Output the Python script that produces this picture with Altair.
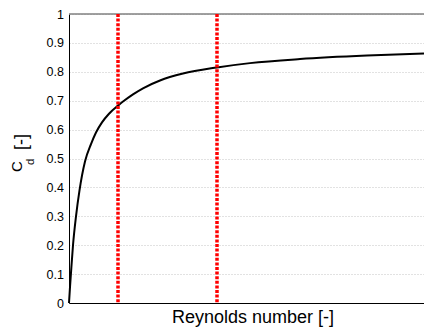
import altair as alt
import pandas as pd

# Reynolds number (arbitrary units, axis unlabeled) and drag coefficient
re_vals = [0, 1, 2, 4, 7, 10.5, 16, 22, 27, 33, 40, 49, 54, 64, 74, 91, 114, 148, 181, 231, 298, 355]
cd_vals = [0, 0.055, 0.105, 0.2, 0.3, 0.39, 0.49, 0.55, 0.59, 0.625, 0.655, 0.683, 0.697, 0.722,
           0.743, 0.770, 0.794, 0.815, 0.830, 0.844, 0.856, 0.863]

# Marked Reynolds numbers (red dashed lines)
re_marks = [49, 148]

y_ticks = [0, 0.1, 0.2, 0.3, 0.4, 0.5, 0.6, 0.7, 0.8, 0.9, 1]
x_domain = [0, 355]

curve_df = pd.DataFrame({"re": re_vals, "cd": cd_vals})
marks_df = pd.DataFrame({"re": re_marks})
top_df = pd.DataFrame({"cd": [1]})

FONT = "Liberation Sans"

x_axis = alt.Axis(labels=False, ticks=False, title=None, grid=False,
                  domainColor="black", domainWidth=1)
y_axis = alt.Axis(values=y_ticks, format="~g", grid=True, gridDash=[1, 2],
                  gridColor="#c4c4c4", gridWidth=1, tickSize=0, labelPadding=5.5,
                  labelFont=FONT, labelFontSize=12.5, labelColor="black",
                  labelOverlap=False, labelFlush=False,
                  title=None, domainColor="black", domainWidth=1)
x_scale = alt.Scale(domain=x_domain, nice=False, zero=False)
y_scale = alt.Scale(domain=[0, 1], nice=False)

curve = alt.Chart(curve_df).mark_line(
    color="black", strokeWidth=2, interpolate="monotone"
).encode(
    x=alt.X("re:Q", scale=x_scale, axis=x_axis),
    y=alt.Y("cd:Q", scale=y_scale, axis=y_axis),
)

top_border = alt.Chart(top_df).mark_rule(color="#808080", strokeWidth=1.5).encode(
    y=alt.Y("cd:Q", scale=y_scale, axis=y_axis)
)

vlines = alt.Chart(marks_df).mark_rule(
    color="#ff0000", strokeWidth=3.5, strokeDash=[3, 1.6]
).encode(x=alt.X("re:Q", scale=x_scale, axis=x_axis))

TOP = 14  # page y of the plot top


def label(txt, x, y, size, angle=270, align="left"):
    return alt.Chart(pd.DataFrame({"t": [txt]})).mark_text(
        angle=angle, align=align, baseline="alphabetic", font=FONT,
        fontSize=size, color="black"
    ).encode(text="t:N", x=alt.value(x), y=alt.value(y))


yt_c = label("C", 22 - 69, 172 - TOP, 15)
yt_d = label("d", 34 - 69, 165 - TOP, 11.5)
yt_u = label("[-]", 26.5 - 69, 150 - TOP, 18)
xt = label("Reynolds number [-]", 184, 322.5 - TOP, 18, angle=0, align="center")

chart = alt.layer(curve, top_border, vlines, yt_c, yt_d, yt_u, xt).properties(
    width=355,
    height=289,
    autosize=alt.AutoSizeParams(type="none"),
    padding={"left": 61, "top": 6, "right": 0, "bottom": 24},
    background="white",
).configure_view(stroke=None)

chart.save("out.html", embed_options={"renderer": "svg", "actions": False})
